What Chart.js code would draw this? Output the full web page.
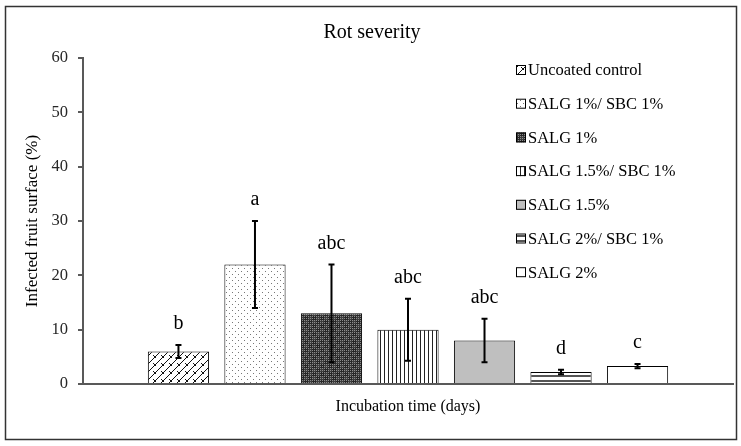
<!DOCTYPE html>
<html>
<head>
<meta charset="utf-8">
<script src="https://cdn.jsdelivr.net/npm/chart.js@4.4.1/dist/chart.umd.min.js"></script>
<style>
  html, body { margin: 0; padding: 0; background: #fff; }
  #wrap { width: 741px; height: 446px; }
</style>
</head>
<body>
<div id="wrap"><canvas id="rotChart" width="741" height="446"></canvas></div>
<script>
// Datos
const treatments = ['Uncoated control', 'SALG 1%/ SBC 1%', 'SALG 1%', 'SALG 1.5%/ SBC 1%', 'SALG 1.5%', 'SALG 2%/ SBC 1%', 'SALG 2%'];
const severity = [6, 22, 13, 10, 8, 2.2, 3.3];
const errors = [1.2, 8, 9, 5.7, 4, 0.4, 0.4];
const letters = ['b', 'a', 'abc', 'abc', 'abc', 'd', 'c'];
const yTicks = [0, 10, 20, 30, 40, 50, 60];

const FONT = "'Liberation Serif', 'DejaVu Serif', serif";

// Crear un patrón a partir de un pequeño lienzo
function makePattern(w, h, draw) {
    const c = document.createElement('canvas');
    c.width = w; c.height = h;
    const g = c.getContext('2d');
    draw(g);
    return g.createPattern(c, 'repeat');
}

const ctx = document.getElementById('rotChart').getContext('2d');

const fills = [
    // ladrillo diagonal
    makePattern(8, 8, g => {
        g.fillStyle = '#fff'; g.fillRect(0, 0, 8, 8);
        g.strokeStyle = '#111'; g.lineWidth = 1;
        g.beginPath();
        g.moveTo(-1, 9); g.lineTo(9, -1);
        g.moveTo(1, 3); g.lineTo(4, 6);
        g.stroke();
    }),
    // puntos
    makePattern(6, 6, g => {
        g.fillStyle = '#fff'; g.fillRect(0, 0, 6, 6);
        g.fillStyle = '#777';
        g.fillRect(1, 1, 1, 1);
        g.fillRect(4, 4, 1, 1);
    }),
    // oscuro (cuadriculado)
    makePattern(8, 8, g => {
        g.fillStyle = '#262626'; g.fillRect(0, 0, 8, 8);
        g.fillStyle = '#3c3c3c';
        g.fillRect(0, 0, 4, 4); g.fillRect(4, 4, 4, 4);
        g.fillStyle = '#8c8c8c';
        for (let a = 0; a < 8; a += 2) {
            for (let b = 0; b < 8; b += 2) g.fillRect(a, b, 1, 1);
        }
    }),
    // líneas verticales
    makePattern(4, 4, g => {
        g.fillStyle = '#fff'; g.fillRect(0, 0, 4, 4);
        g.fillStyle = '#222'; g.fillRect(0, 0, 1, 4);
    }),
    '#bfbfbf',
    // líneas horizontales
    makePattern(4, 5, g => {
        g.fillStyle = '#fff'; g.fillRect(0, 0, 4, 5);
        g.fillStyle = '#555'; g.fillRect(0, 0, 4, 2);
    }),
    '#ffffff'
];

// Fondo, marco, títulos, barras de error y letras
const decorPlugin = {
    id: 'decor',
    beforeDraw(chart) {
        const c = chart.ctx;
        c.save();
        c.fillStyle = '#fff';
        c.fillRect(0, 0, chart.width, chart.height);
        c.restore();
    },
    afterDraw(chart) {
        const c = chart.ctx;
        const y = chart.scales.y;
        const area = chart.chartArea;
        c.save();
        // marco exterior
        c.strokeStyle = '#333';
        c.lineWidth = 1.5;
        c.strokeRect(5.5, 6.5, 731, 433);

        // título
        c.fillStyle = '#000';
        c.textAlign = 'center';
        c.textBaseline = 'middle';
        c.font = '20px ' + FONT;
        c.fillText('Rot severity', 372, 33);

        // título eje x
        c.font = '16px ' + FONT;
        c.fillText('Incubation time (days)', (area.left + area.right) / 2, 407);

        // título eje y
        c.save();
        c.translate(33, (area.top + area.bottom) / 2);
        c.rotate(-Math.PI / 2);
        c.font = '17px ' + FONT;
        c.fillText('Infected fruit surface (%)', 0, 0);
        c.restore();

        // barras de error y letras
        chart.data.datasets.forEach((ds, i) => {
            const bar = chart.getDatasetMeta(i).data[0];
            const v = ds.data[0];
            const yTop = y.getPixelForValue(v + errors[i]);
            const yBot = y.getPixelForValue(v - errors[i]);
            c.strokeStyle = '#000';
            c.lineWidth = 2;
            c.beginPath();
            c.moveTo(bar.x, yTop); c.lineTo(bar.x, yBot);
            c.moveTo(bar.x - 3, yTop); c.lineTo(bar.x + 3, yTop);
            c.moveTo(bar.x - 3, yBot); c.lineTo(bar.x + 3, yBot);
            c.stroke();
            c.fillStyle = '#000';
            c.font = '20px ' + FONT;
            c.fillText(letters[i], bar.x, yTop - 21);
        });

        // leyenda
        c.textAlign = 'left';
        c.font = '16.5px ' + FONT;
        chart.data.datasets.forEach((ds, i) => {
            const ly = 70 + i * 33.7;
            c.fillStyle = ds.backgroundColor;
            c.fillRect(516, ly - 5, 10, 10);
            c.strokeStyle = '#000';
            c.lineWidth = 1;
            c.strokeRect(516.5, ly - 4.5, 9, 9);
            c.fillStyle = '#000';
            c.fillText(ds.label, 528, ly + 1);
        });
        c.restore();
    }
};

const datasets = treatments.map((name, i) => ({
    label: name,
    data: [severity[i]],
    backgroundColor: fills[i],
    borderColor: '#000',
    borderWidth: 1
}));

new Chart(ctx, {
    type: 'bar',
    data: { labels: [''], datasets: datasets },
    options: {
        responsive: false,
        animation: false,
        devicePixelRatio: 1,
        categoryPercentage: 0.824,
        barPercentage: 0.8,
        layout: { padding: { left: 0, right: 8, top: 58, bottom: 0 } },
        scales: {
            x: {
                afterFit(scale) { scale.height = 62; },
                ticks: { display: false },
                grid: { display: false },
                border: { display: true, color: '#595959', width: 2 }
            },
            y: {
                min: 0,
                max: 60,
                afterFit(scale) { scale.width = 83; },
                afterBuildTicks(scale) { scale.ticks = yTicks.map(v => ({ value: v })); },
                ticks: {
                    padding: 10,
                    color: '#262626',
                    font: { family: FONT, size: 16.5 }
                },
                grid: { drawOnChartArea: false, drawTicks: true, tickLength: 5, color: '#595959', lineWidth: 2 },
                border: { display: true, color: '#595959', width: 2 }
            }
        },
        plugins: {
            legend: { display: false },
            title: { display: false },
            tooltip: { enabled: false }
        }
    },
    plugins: [decorPlugin]
});
</script>
</body>
</html>
